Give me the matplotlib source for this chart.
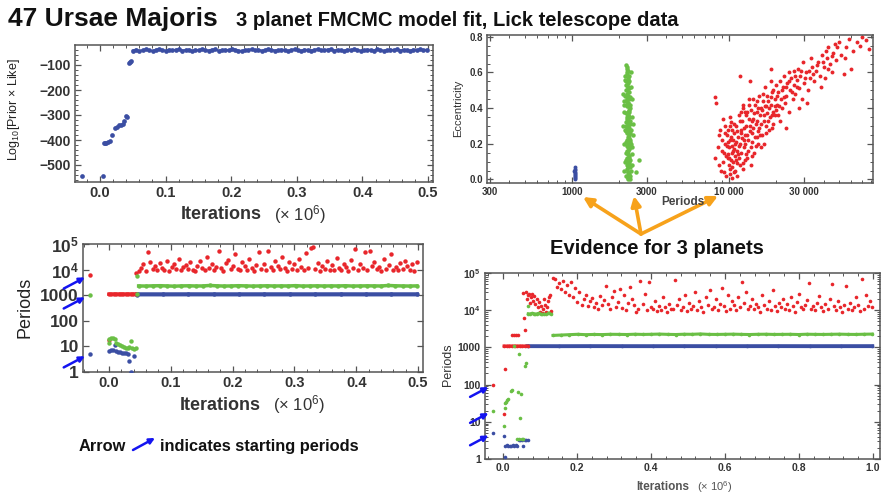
import numpy as np
import matplotlib.pyplot as plt
from matplotlib.ticker import FixedLocator, LogLocator, NullFormatter

plt.rcParams['font.family'] = ['Liberation Sans', 'DejaVu Sans']
plt.rcParams['mathtext.default'] = 'regular'

RED = '#e8262b'
GREEN = '#6abf45'
BLUE = '#3b4ea3'
ARROW = '#1414f0'
ORANGE = '#f7a21b'

# ---- panel 1: log10(prior x likelihood) trace ----
like_burn_x = [-0.027, 0.004, 0.006, 0.008, 0.010, 0.012, 0.015, 0.019, 0.023, 0.026,
               0.029, 0.032, 0.035, 0.037, 0.040, 0.042, 0.044, 0.046, 0.048]
like_burn = [-545, -545, -412, -410, -412, -408, -405, -380, -352, -348,
             -340, -338, -335, -325, -303, -307, -90, -88, -85]
like_post = [-42, -38, -45, -40, -37, -41, -44, -39, -36, -40, -43, -38, -41, -39, -37,
             -42, -40, -38, -44, -39, -41, -36, -40, -42, -38, -37, -43, -40, -39, -41,
             -35, -38, -42, -44, -40, -39, -37, -41, -38, -43, -40, -36, -39, -42, -41,
             -38, -40, -44, -39, -37, -41, -43, -38, -40, -42, -39, -36, -41, -40, -38,
             -37, -42, -39, -41, -44, -38, -40, -36, -39, -43, -41, -38, -40, -42, -37,
             -39, -44, -40, -38, -41, -36, -42, -39, -40, -43, -38, -41, -37, -40, -39]
like_post_range = (0.050, 0.498)

# ---- panel 2: eccentricity vs period ----
blue_ecc = [(1040, 0.00), (1045, 0.01), (1050, 0.02), (1042, 0.03), (1048, 0.04), (1038, 0.05),
            (1046, 0.06), (1044, 0.07), (1041, 0.015), (1049, 0.035), (1043, 0.055), (1047, 0.025)]
green_ecc = [(2200, 0.64), (2230, 0.62), (2250, 0.60), (2190, 0.58), (2260, 0.57), (2220, 0.55),
             (2280, 0.61), (2240, 0.59), (2210, 0.53), (2270, 0.52), (2240, 0.50), (2300, 0.49),
             (2180, 0.47), (2260, 0.46), (2320, 0.51), (2230, 0.48), (2290, 0.54), (2250, 0.45),
             (2200, 0.44), (2280, 0.43), (2330, 0.42), (2240, 0.41), (2150, 0.44), (2300, 0.39),
             (2260, 0.38), (2210, 0.37), (2350, 0.40), (2270, 0.36), (2230, 0.42), (2310, 0.35),
             (2250, 0.34), (2300, 0.33), (2200, 0.32), (2340, 0.31), (2270, 0.30), (2230, 0.29),
             (2380, 0.28), (2290, 0.27), (2250, 0.26), (2320, 0.25), (2210, 0.30), (2360, 0.33),
             (2260, 0.24), (2300, 0.23), (2230, 0.22), (2350, 0.21), (2280, 0.20), (2250, 0.19),
             (2400, 0.18), (2310, 0.17), (2270, 0.16), (2220, 0.15), (2330, 0.22), (2290, 0.18),
             (2280, 0.14), (2320, 0.13), (2250, 0.12), (2360, 0.11), (2300, 0.10), (2680, 0.11),
             (2270, 0.09), (2340, 0.08), (2290, 0.07), (2240, 0.06), (2380, 0.05), (2310, 0.12),
             (2260, 0.04), (2300, 0.03), (2330, 0.02), (2270, 0.01), (2350, 0.00), (2550, 0.04),
             (2290, 0.00), (2240, 0.02), (2220, 0.27), (2310, 0.45), (2260, 0.52), (2240, 0.35),
             (2280, 0.47), (2300, 0.29), (2250, 0.15), (2320, 0.38), (2200, 0.21), (2270, 0.56),
             (2330, 0.18), (2230, 0.08), (2290, 0.41), (2260, 0.31), (2210, 0.11), (2340, 0.26),
             (2270, 0.04), (2250, 0.63), (2300, 0.55), (2280, 0.36), (2120, 0.30), (2420, 0.35),
             (2160, 0.20), (2440, 0.25), (2130, 0.48), (2400, 0.45), (2170, 0.10), (2410, 0.14),
             (2140, 0.38), (2390, 0.52), (2180, 0.56), (2370, 0.60), (2150, 0.05), (2420, 0.08),
             (2190, 0.28), (2380, 0.20), (2160, 0.42), (2360, 0.46), (2200, 0.02), (2440, 0.31),
             (2230, 0.16), (2310, 0.58), (2260, 0.43), (2330, 0.07), (2210, 0.50)]
red_ecc = [(8100, 0.46), (8300, 0.43), (8200, 0.12), (8600, 0.25), (8800, 0.28), (8500, 0.18),
           (9000, 0.22), (9200, 0.10), (8900, 0.05), (9400, 0.30), (9300, 0.15), (9100, 0.34),
           (9500, 0.20), (8700, 0.08), (9600, 0.02), (9800, 0.12), (10000, 0.18), (9700, 0.25),
           (10200, 0.06), (10400, 0.15), (10100, 0.22), (9900, 0.28), (10600, 0.10), (10300, 0.32),
           (10800, 0.04), (10500, 0.19), (10700, 0.26), (10000, 0.08), (9900, 0.14), (10200, 0.35),
           (10900, 0.13), (10400, 0.01), (10600, 0.22), (10100, 0.30), (10800, 0.17), (9700, 0.19),
           (10300, 0.11), (10500, 0.28), (11000, 0.05), (11200, 0.16), (11400, 0.24), (11100, 0.30),
           (11600, 0.12), (11800, 0.20), (12000, 0.28), (11500, 0.36), (12200, 0.09), (12400, 0.18),
           (12600, 0.25), (12100, 0.33), (12800, 0.14), (12300, 0.40), (11300, 0.02), (11700, 0.08),
           (12500, 0.22), (12900, 0.30), (11900, 0.26), (12700, 0.38), (11100, 0.21), (12200, 0.42),
           (11400, 0.14), (11800, 0.58), (13000, 0.12), (13300, 0.22), (13600, 0.30), (13100, 0.38),
           (13800, 0.18), (14000, 0.26), (14300, 0.34), (13500, 0.42), (14600, 0.24), (14800, 0.31),
           (15000, 0.38), (14200, 0.45), (15300, 0.20), (15600, 0.29), (15800, 0.36), (15100, 0.44),
           (13900, 0.08), (14500, 0.15), (15500, 0.47), (13600, 0.55), (15200, 0.27), (14100, 0.33),
           (16000, 0.40), (16300, 0.25), (16600, 0.33), (16900, 0.41), (16500, 0.48), (17200, 0.30),
           (17500, 0.37), (17800, 0.44), (17000, 0.52), (18200, 0.35), (18500, 0.42), (18800, 0.49),
           (18000, 0.28), (19200, 0.38), (19500, 0.45), (19800, 0.53), (19000, 0.31), (16800, 0.20),
           (18400, 0.55), (19600, 0.41), (16200, 0.39), (18900, 0.36), (18500, 0.62), (20200, 0.42),
           (20600, 0.49), (21000, 0.55), (20400, 0.36), (21500, 0.45), (22000, 0.52), (22500, 0.58),
           (21800, 0.40), (23000, 0.47), (23500, 0.54), (24000, 0.60), (22800, 0.43), (24500, 0.50),
           (25000, 0.57), (25500, 0.45), (24200, 0.38), (23000, 0.29), (26000, 0.53), (21200, 0.33),
           (25800, 0.61), (26500, 0.48), (27000, 0.56), (27500, 0.62), (28000, 0.51), (28500, 0.58),
           (29000, 0.45), (30000, 0.54), (31000, 0.60), (29500, 0.66), (32000, 0.50), (33000, 0.57),
           (34000, 0.63), (31500, 0.43), (33500, 0.68), (35000, 0.55), (27800, 0.40), (36000, 0.61),
           (37000, 0.66), (38000, 0.58), (39000, 0.70), (40000, 0.63), (41000, 0.57), (42000, 0.68),
           (43000, 0.74), (44000, 0.65), (45000, 0.60), (46000, 0.71), (48000, 0.67), (47000, 0.76),
           (38500, 0.52), (49000, 0.74), (41500, 0.72), (50000, 0.77), (52000, 0.70), (54000, 0.59),
           (56000, 0.74), (58000, 0.79), (60000, 0.62), (62000, 0.72), (65000, 0.77), (68000, 0.75),
           (70000, 0.80), (74000, 0.78), (78000, 0.73), (55000, 0.68),
           (9300, 0.04), (9600, 0.13), (9800, 0.21), (10100, 0.03), (10300, 0.24), (10500, 0.07),
           (10700, 0.31), (10900, 0.20), (11100, 0.11), (11300, 0.27), (11500, 0.19), (11700, 0.33),
           (11900, 0.15), (12100, 0.23), (12300, 0.06), (12500, 0.29), (12700, 0.20), (12900, 0.36),
           (13100, 0.25), (13300, 0.16), (13500, 0.34), (13700, 0.27), (13900, 0.39), (14100, 0.21),
           (14300, 0.29), (14500, 0.37), (14700, 0.42), (14900, 0.19), (15100, 0.33), (15400, 0.40),
           (15700, 0.25), (16000, 0.31), (16400, 0.44), (16700, 0.36), (17100, 0.26), (17400, 0.47),
           (17700, 0.33), (18100, 0.40), (18600, 0.46), (19100, 0.50), (19700, 0.36), (20300, 0.47),
           (20900, 0.41), (21600, 0.50), (22300, 0.46), (23200, 0.52), (24100, 0.55), (25100, 0.49),
           (26200, 0.58), (27300, 0.52), (28700, 0.61), (30500, 0.57), (32500, 0.61), (34500, 0.59),
           (36500, 0.64), (39500, 0.66), (42500, 0.62), (45500, 0.69), (9000, 0.16), (9500, 0.26),
           (10000, 0.12), (10600, 0.16), (11200, 0.09), (11900, 0.38), (12600, 0.11), (13400, 0.45),
           (14000, 0.13), (15000, 0.24), (16100, 0.18), (17300, 0.41), (18700, 0.29), (20000, 0.39)]
ecc_ticks = [300, 1000, 3000, 10000, 30000]
ecc_tick_labels = ['300', '1000', '3000', '10 000', '30 000']

# ---- panel 3: periods trace, 0.5e6 iterations ----
start_x3 = -0.031
start3 = [6000, 1000, 5]          # red, green, blue
red3_burn_x = [0.000]
red3_burn = [18]
red3_flat = [1100, 1095, 1105, 1100, 1098, 1102, 1100, 1096, 1104, 1100, 1099, 1101]
red3_flat_range = (0.000, 0.043)
green3_burn_x = [0.000, 0.000, 0.003, 0.006, 0.009, 0.012, 0.015, 0.018, 0.021, 0.024,
                 0.027, 0.030, 0.033, 0.035, 0.037, 0.040, 0.043, 0.046, 0.046]
green3_burn = [14, 20, 21, 21, 20, 13, 12, 11, 10, 9.5, 9, 9, 9.5, 17, 8.5, 8, 8.5, 5500, 1080]
blue3_burn_x = [0.000, 0.003, 0.006, 0.010, 0.012, 0.015, 0.018, 0.021, 0.024, 0.027,
                0.030, 0.033, 0.036, 0.040, 0.045]
blue3_burn = [6.5, 7, 7, 11, 6.5, 6, 6, 5.5, 5.5, 5.5, 5, 2.7, 1.0, 4.2, 1000]
red3_post = [7500, 8500, 12000, 16000, 9000, 48000, 20000, 11000, 14000, 9500,
             18000, 12000, 10000, 22000, 9000, 13000, 17000, 10500, 25000, 9800,
             12500, 15000, 11000, 19000, 10000, 8800, 14000, 21000, 12000, 9600,
             30000, 11500, 16000, 10000, 13000, 55000, 12000, 9000, 18000, 24000,
             10500, 14000, 42000, 11000, 9500, 20000, 13500, 10000, 27000, 12000,
             9000, 15000, 50000, 11000, 17000, 10000, 52000, 13000, 9500, 22000,
             14000, 10500, 30000, 12000, 9000, 19000, 11000, 16000, 10000, 25000,
             13000, 9800, 45000, 12000, 70000, 75000, 10500, 18000, 9000, 14000,
             11000, 21000, 10000, 15000, 9500, 28000, 12000, 10000, 17000, 13000,
             9000, 24000, 11500, 65000, 10000, 16000, 12000, 50000, 9500, 55000,
             14000, 20000, 10500, 13000, 9000, 26000, 11000, 15000, 42000, 10000,
             12500, 9500, 18000, 11000, 22000, 14000, 10000, 16000, 9000, 20000]
red3_post_range = (0.044, 0.498)
green3_post = [2300, 2280, 2320, 2350, 2300, 2250, 2310, 2330, 2290, 2300,
               2400, 2320, 2280, 2300, 2350, 2310, 2270, 2300, 2330, 2290,
               2310, 2300, 2360, 2280, 2300, 2320, 2290, 2310, 2300, 2340,
               2280, 2300, 2320, 2310, 2290, 2400, 2330, 2300, 2280, 2310]
green3_post_range = (0.048, 0.498)
blue3_post = [1080, 1078, 1082, 1080, 1079, 1081, 1080, 1080, 1082, 1079, 1080, 1081]
blue3_post_range = (0.046, 0.498)
period_ticks = [1, 10, 100, 1000, 1e4, 1e5]
period_tick_labels = ['1', '10', '100', '1000', '10$^4$', '10$^5$']

# ---- panel 4: periods trace, 1e6 iterations ----
start_x4 = -0.027
start4 = [100, 20, 5]             # red, green, blue
red4_burn_x = [0.003, 0.006, 0.025, 0.030, 0.035, 0.040, 0.055, 0.057, 0.059]
red4_burn = [16, 265, 2100, 2100, 2150, 2100, 29000, 6200, 2900]
red4_flat = [1084, 1080, 1088, 1082, 1085, 1079, 1086, 1083, 1081, 1084]
red4_flat_range = (0.003, 0.066)
red4_mid = [30000, 20000, 25000, 28000, 16000, 22000, 27000, 18000, 24000, 15000,
            20000, 12000, 17000, 9000, 13000, 8500, 11000, 20000, 14000, 9000,
            12000, 18000, 22000, 25000, 9500]
red4_mid_range = (0.062, 0.130)
red4_post = [75000, 68000, 42000, 55000, 38000, 62000, 30000, 48000, 26000, 58000,
             22000, 40000, 17000, 30000, 14000, 20000, 25000, 13000, 18000, 21000,
             12000, 16000, 11000, 24000, 13500, 19000, 45000, 15000, 11000, 22000,
             32000, 12500, 17000, 38000, 11500, 26000, 10000, 16000, 42000, 20000,
             14000, 9000, 11000, 62000, 15000, 27000, 10000, 58000, 12000, 10500,
             18000, 9500, 13000, 10000, 23000, 12000, 9000, 15000, 11000, 10500,
             66000, 14000, 20000, 10000, 12000, 26000, 9500, 16000, 11000, 13000,
             31000, 10000, 18000, 12000, 9000, 22000, 14000, 36000, 11000, 12500,
             20000, 10000, 15000, 40000, 13000, 9500, 25000, 11000, 18000, 14000,
             10000, 22000, 12000, 58000, 16000, 30000, 11000, 13000, 20000, 10500,
             15000, 12000, 9000, 25000, 14000, 11000, 18000, 10000, 34000, 13000,
             9500, 16000, 12000, 20000, 11000, 15000, 10000, 22000, 13000, 9000,
             17000, 28000, 12000, 10500, 14000, 19000, 55000, 11000, 13000, 10000,
             16000, 24000, 12000, 9500, 15000, 11000, 20000, 50000, 13000, 10000,
             18000, 12000, 9000, 14000, 45000, 11000, 16000, 10000, 12500, 22000,
             14000, 9500, 70000, 11000, 25000, 13000, 18000, 12000]
red4_post_range = (0.135, 0.998)
green4_burn_x = [0.0025, 0.004, 0.006, 0.008, 0.011, 0.014, 0.020, 0.025, 0.030, 0.037,
                 0.040, 0.043, 0.044, 0.045, 0.048, 0.050, 0.055, 0.060, 0.062, 0.066]
green4_burn = [7.5, 33, 24, 34, 38, 40, 69, 70, 1080, 3.4,
               63, 3.4, 680, 13, 55, 3.4, 3.4, 320, 390, 13000]
green4_mid = [8000, 7900, 8200, 8100, 7800, 8000, 8300, 7900, 8100, 8000, 7800, 8200, 8400, 8000]
green4_mid_range = (0.068, 0.130)
green4_post = [2100, 2150, 2200, 2250, 2200, 2230, 2210, 2250, 2240, 2220,
               2260, 2230, 2250, 2280, 2240, 2220, 2260, 2250, 2300, 2240,
               2230, 2250, 2270, 2240, 2220, 2250, 2260, 2230, 2240, 2250,
               2220, 2260, 2240, 2230, 2250, 2270, 2240, 2230, 2260, 2280]
green4_post_range = (0.135, 0.998)
blue4_burn_x = [0.003, 0.005, 0.006, 0.010, 0.014, 0.018, 0.022, 0.026, 0.030, 0.034,
                0.038, 0.042, 0.046, 0.050, 0.054, 0.058, 0.062, 0.066]
blue4_burn = [4.2, 1.1, 2.3, 2.4, 2.3, 2.2, 2.3, 2.4, 2.3, 2.4,
              2.3, 3.3, 3.3, 3.2, 2.3, 3.3, 3.3, 3.3]
blue4_post = [1080, 1078, 1082, 1080, 1079, 1081, 1080, 1080, 1082, 1079, 1080, 1081]
blue4_post_range = (0.066, 0.998)

W, H = 882, 500
fig = plt.figure(figsize=(W / 100, H / 100), dpi=100)


def box(l, t, r, b):
    return [l / W, 1 - b / H, (r - l) / W, (b - t) / H]


def ftext(x, y, s, **kw):
    fig.text(x / W, 1 - y / H, s, **kw)


def fpos(x, y):
    return (x / W, 1 - y / H)


def frame(ax, size, xt, xl, yt, yl):
    for sp in ax.spines.values():
        sp.set_color('#555555')
        sp.set_linewidth(1.1)
    ax.set_xticks(xt)
    ax.set_xticklabels(xl, fontweight='bold', fontsize=size, color='#333333')
    ax.set_yticks(yt)
    ax.set_yticklabels(yl, fontweight='bold', fontsize=size, color='#333333')
    ax.tick_params(which='both', direction='in', top=True, right=True, color='#555555', pad=3)
    ax.tick_params(which='major', length=4, width=0.9)
    ax.tick_params(which='minor', length=2, width=0.7)


def run(ax, rng, vals, color, ms, lw=0):
    x = np.linspace(rng[0], rng[1], len(vals))
    if lw:
        ax.plot(x, vals, '-', color=color, lw=lw, zorder=2)
    ax.plot(x, vals, 'o', color=color, ms=ms, mec='none', zorder=3)


def pts(ax, x, vals, color, ms):
    ax.plot(x, vals, 'o', color=color, ms=ms, mec='none', zorder=3)


def start_arrows(ax, x, vals, dx, dy):
    for v in vals:
        ax.annotate('', xy=(x, v * 0.93), xytext=(dx, dy), textcoords='offset points',
                    arrowprops=dict(arrowstyle='-|>', color=ARROW, lw=1.8, mutation_scale=8,
                                    shrinkA=0, shrinkB=2), annotation_clip=False)


def iter_label(xc, y, big, small, color):
    # bold "Iterations" followed by a lighter "(x 10^6)"
    ftext(xc, y, 'Iterations', ha='right', va='center', fontsize=big, fontweight='bold', color=color)
    ftext(xc + big * 0.9, y, '(\u00d7 10$^{6}$)', ha='left', va='center', fontsize=small, color=color)


# ---- panel 1 ----
ax1 = fig.add_axes(box(75, 45, 433, 182))
pts(ax1, like_burn_x, like_burn, BLUE, 3.4)
run(ax1, like_post_range, like_post, BLUE, 3.4, lw=1.5)
ax1.set_xlim(-0.038, 0.5076)
ax1.set_ylim(-568, -20)
frame(ax1, 10.5, [0, 0.1, 0.2, 0.3, 0.4, 0.5], ['0.0', '0.1', '0.2', '0.3', '0.4', '0.5'],
      [-100, -200, -300, -400, -500], ['\u2212100', '\u2212200', '\u2212300', '\u2212400', '\u2212500'])
ax1.tick_params(axis='y', labelsize=10)
ax1.xaxis.set_minor_locator(FixedLocator(np.arange(-0.02, 0.51, 0.02)))
ax1.yaxis.set_minor_locator(FixedLocator(np.arange(-560, -20, 20)))
ftext(14, 110, 'Log$_{10}$[Prior \u00d7 Like]', rotation=90, ha='center', va='center', fontsize=9, color='#222222')
iter_label(262, 215, 13, 12, '#333333')

# ---- panel 2 ----
ax2 = fig.add_axes(box(487, 35, 873, 183))
bp, be = zip(*blue_ecc)
gp, ge = zip(*green_ecc)
rp, re_ = zip(*red_ecc)
ax2.plot(bp, be, 'o', color=BLUE, ms=2.8, mec='none')
ax2.plot(gp, ge, 'o', color=GREEN, ms=3.2, mec='none')
ax2.plot(rp, re_, 'o', color=RED, ms=2.8, mec='none')
ax2.set_xscale('log')
ax2.set_xlim(288, 82600)
ax2.set_ylim(-0.02, 0.81)
frame(ax2, 7, ecc_ticks, ecc_tick_labels, [0, 0.2, 0.4, 0.6, 0.8], ['0.0', '0.2', '0.4', '0.6', '0.8'])
ax2.xaxis.set_minor_locator(LogLocator(base=10, subs=(2, 4, 5, 6, 7, 8, 9)))
ax2.xaxis.set_minor_formatter(NullFormatter())
ax2.yaxis.set_minor_locator(FixedLocator(np.arange(0, 0.81, 0.05)))
ftext(458, 108, 'Eccentricity', rotation=90, ha='center', va='center', fontsize=8, color='#333333')
ftext(683, 202, 'Periods', ha='center', va='center', fontsize=8.5, fontweight='bold', color='#444444')

for tip in [(583, 197), (634, 196), (718, 196)]:
    fig.add_artist(plt.Annotation('', xy=fpos(*tip), xytext=fpos(641, 234), xycoords='figure fraction',
                                  textcoords='figure fraction',
                                  arrowprops=dict(arrowstyle='-|>', color=ORANGE, lw=2.6,
                                                  mutation_scale=14, shrinkA=0, shrinkB=0)))

ftext(657, 248, 'Evidence for 3 planets', ha='center', va='center', fontsize=14.5, fontweight='bold', color='#111111')

# ---- panel 3 ----
ax3 = fig.add_axes(box(83, 244, 423, 372))
ax3.set_yscale('log')
run(ax3, blue3_post_range, blue3_post, BLUE, 3.2, lw=3)
pts(ax3, blue3_burn_x, blue3_burn, BLUE, 3.2)
run(ax3, red3_flat_range, red3_flat, RED, 3.2, lw=2.5)
pts(ax3, red3_burn_x, red3_burn, RED, 3.2)
run(ax3, red3_post_range, red3_post, RED, 3.2)
run(ax3, green3_post_range, green3_post, GREEN, 3.2, lw=2.5)
pts(ax3, green3_burn_x, green3_burn, GREEN, 3.2)
for v, c in zip(start3, [RED, GREEN, BLUE]):
    pts(ax3, [start_x3], [v], c, 3.2)
ax3.set_xlim(-0.042, 0.508)
ax3.set_ylim(1, 1e5)
frame(ax3, 10.5, [0, 0.1, 0.2, 0.3, 0.4, 0.5], ['0.0', '0.1', '0.2', '0.3', '0.4', '0.5'],
      period_ticks, period_tick_labels)
ax3.tick_params(axis='y', labelsize=12.5)
ax3.xaxis.set_minor_locator(FixedLocator(np.arange(-0.04, 0.51, 0.02)))
ax3.yaxis.set_minor_locator(LogLocator(base=10, subs=(2, 3, 4, 5, 6, 7, 8, 9)))
ax3.yaxis.set_minor_formatter(NullFormatter())
start_arrows(ax3, start_x3 - 0.004, start3, -17, -9)
ftext(25, 307, 'Periods', rotation=90, ha='center', va='center', fontsize=13, color='#222222')
iter_label(261, 405, 13, 12, '#333333')

# ---- panel 4 ----
ax4 = fig.add_axes(box(485, 273, 880, 459))
ax4.set_yscale('log')
run(ax4, blue4_post_range, blue4_post, BLUE, 2.6, lw=2.8)
pts(ax4, blue4_burn_x, blue4_burn, BLUE, 2.6)
run(ax4, red4_flat_range, red4_flat, RED, 2.6, lw=2.4)
pts(ax4, red4_burn_x, red4_burn, RED, 2.6)
run(ax4, red4_mid_range, red4_mid, RED, 2.6)
run(ax4, red4_post_range, red4_post, RED, 2.6)
run(ax4, green4_mid_range, green4_mid, GREEN, 2.6, lw=2.2)
run(ax4, green4_post_range, green4_post, GREEN, 2.6, lw=2.2)
pts(ax4, green4_burn_x, green4_burn, GREEN, 2.6)
for v, c in zip(start4, [RED, GREEN, BLUE]):
    pts(ax4, [start_x4], [v], c, 2.6)
ax4.set_xlim(-0.049, 1.019)
ax4.set_ylim(1, 1e5)
frame(ax4, 7.5, [0, 0.2, 0.4, 0.6, 0.8, 1.0], ['0.0', '0.2', '0.4', '0.6', '0.8', '1.0'],
      period_ticks, period_tick_labels)
ax4.xaxis.set_minor_locator(FixedLocator(np.arange(-0.04, 1.02, 0.04)))
ax4.yaxis.set_minor_locator(LogLocator(base=10, subs=(2, 3, 4, 5, 6, 7, 8, 9)))
ax4.yaxis.set_minor_formatter(NullFormatter())
start_arrows(ax4, start_x4 - 0.006, start4, -15, -8)
ftext(448, 365, 'Periods', rotation=90, ha='center', va='center', fontsize=9, color='#333333')
iter_label(689, 487, 8.5, 8, '#555555')

# ---- headings ----
ftext(8, 26, '47 Ursae Majoris', ha='left', va='baseline', fontsize=19, fontweight='bold', color='#111111')
ftext(236, 26, '3 planet FMCMC model fit, Lick telescope data', ha='left', va='baseline',
      fontsize=14.5, fontweight='bold', color='#111111')
ftext(79, 451, 'Arrow', ha='left', va='baseline', fontsize=11.8, fontweight='bold', color='#111111')
ftext(160, 451, 'indicates starting periods', ha='left', va='baseline', fontsize=11.8,
      fontweight='bold', color='#111111')
fig.add_artist(plt.Annotation('', xy=fpos(155, 438), xytext=fpos(133, 450), xycoords='figure fraction',
                              textcoords='figure fraction',
                              arrowprops=dict(arrowstyle='-|>', color=ARROW, lw=1.8, mutation_scale=8,
                                              shrinkA=0, shrinkB=0)))

fig.savefig('out.png', dpi=100)
